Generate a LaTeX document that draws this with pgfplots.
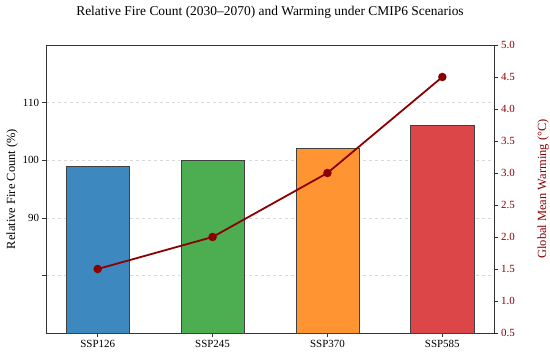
\documentclass[border=0pt]{standalone}
\usepackage{pgfplots}
\pgfplotsset{compat=1.18}
\usepackage{fontspec}
\setmainfont{Liberation Serif}
\definecolor{cblue}{RGB}{62,136,192}
\definecolor{cgreen}{RGB}{76,174,80}
\definecolor{corange}{RGB}{255,148,50}
\definecolor{cred}{RGB}{220,70,72}
\definecolor{dred}{RGB}{139,0,0}
\begin{document}
\begin{tikzpicture}[x=1bp,y=1bp]
\useasboundingbox (-46,-20) rectangle (504,333);
\begin{axis}[
  at={(0,0)}, anchor=south west,
  scale only axis, width=448bp, height=288bp,
  xmin=-0.45, xmax=3.45, ymin=70, ymax=120,
  xtick={0,1,2,3}, xticklabels={SSP126,SSP245,SSP370,SSP585},
  ytick={80,90,100,110}, yticklabels={,90,100,110},
  xtick pos=bottom, ytick pos=left,
  axis line style={black!80, line width=0.8pt, -},
  tick align=outside, tick style={black!80, line width=0.6pt},
  major tick length=3.5bp,
  ymajorgrids, grid style={dashed, black!15, line width=0.5pt},
  ylabel={Relative Fire Count (\%)},
  ylabel style={font=\fontsize{12.5}{14}\selectfont, yshift=-2bp},
  ticklabel style={font=\fontsize{11}{13}\selectfont},
  /pgf/number format/assume math mode=true,
  title={Relative Fire Count (2030–2070) and Warming under CMIP6 Scenarios},
  title style={font=\fontsize{13.5}{15}\selectfont, at={(0.5,1)}, anchor=south, yshift=17bp},
  ybar, bar width=0.55, bar shift=0pt,
  clip=true,
]
\addplot[fill=cblue, draw=black!75, line width=0.7pt] coordinates {(0,99)};
\addplot[fill=cgreen, draw=black!75, line width=0.7pt] coordinates {(1,100)};
\addplot[fill=corange, draw=black!75, line width=0.7pt] coordinates {(2,102)};
\addplot[fill=cred, draw=black!75, line width=0.7pt] coordinates {(3,106)};
\end{axis}
\begin{axis}[
  at={(0,0)}, anchor=south west,
  scale only axis, width=448bp, height=288bp,
  xmin=-0.45, xmax=3.45, ymin=0.5, ymax=5.0,
  ytick={0.5,1.0,...,5.0},
  /pgf/number format/fixed, /pgf/number format/fixed zerofill, /pgf/number format/precision=1,
  axis y line*=right, axis x line=none,
  axis line style={black!80, line width=0.8pt, -},
  tick align=outside, tick style={dred, line width=0.6pt},
  major tick length=3.5bp,
  yticklabel style={text=dred, font=\fontsize{11}{13}\selectfont},
  /pgf/number format/assume math mode=true,
  ylabel={Global Mean Warming (°C)},
  ylabel style={text=dred, font=\fontsize{12.5}{14}\selectfont, yshift=-16bp},
]
\addplot[dred, line width=1.8pt, mark=*, mark size=3.3bp, mark options={fill=dred, draw=dred}] coordinates {(0,1.5) (1,2.0) (2,3.0) (3,4.5)};
\end{axis}
\end{tikzpicture}
\end{document}
